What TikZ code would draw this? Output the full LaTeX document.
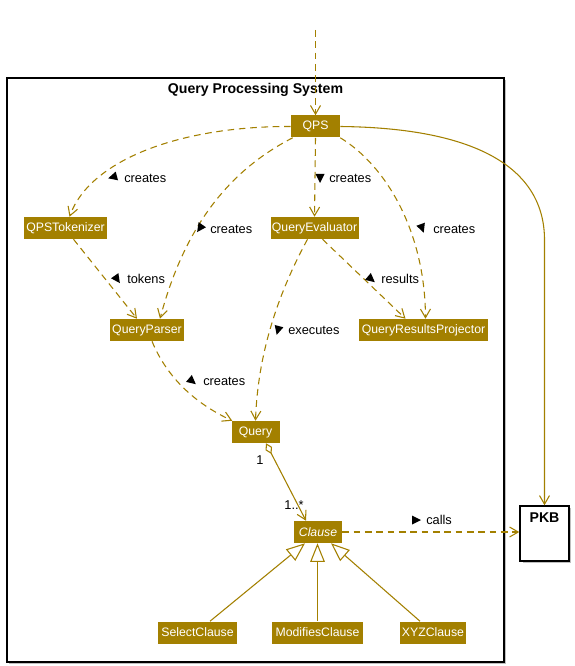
\documentclass[tikz,border=0pt]{standalone}
\usepackage{fontspec}
\setmainfont{Liberation Sans}
\usetikzlibrary{arrows.meta,calc}
\definecolor{qgold}{RGB}{163,128,0}
\begin{document}
\begin{tikzpicture}[x=0.75pt,y=-0.75pt,
  cls/.style={fill=qgold,text=white,font=\fontsize{9.2pt}{11pt}\selectfont,
    minimum height=16.5pt,inner xsep=0pt,inner ysep=0pt,minimum width={#1*0.75pt}},
  lbl/.style={anchor=west,inner sep=0pt,font=\fontsize{9.6pt}{11pt}\selectfont},
  mult/.style={inner sep=0pt,font=\fontsize{9.6pt}{11pt}\selectfont},
  dep/.style={draw=qgold,line width=0.8pt,dash pattern=on 5pt off 3.5pt,
    -{Straight Barb[length=6.5pt,width=7.5pt,line width=0.8pt]}},
  assoc/.style={draw=qgold,line width=0.8pt,
    -{Straight Barb[length=6.5pt,width=7.5pt,line width=0.8pt]}},
  gen/.style={draw=qgold,line width=0.8pt,
    -{Triangle[open,length=14pt,width=11pt,fill=white,line width=0.8pt]}},
  agg/.style={draw=qgold,line width=0.8pt,
    {Diamond[open,length=9pt,width=5.5pt,fill=white,line width=0.8pt]}-{Straight Barb[length=6.5pt,width=7.5pt,line width=0.8pt]}}
]
\useasboundingbox (0,0) rectangle (574,666);
% frame
\fill[black!25] (9,80) rectangle (506,664);
\draw[line width=1.1pt,fill=white] (7,78) rectangle (504,662);
\node[font=\bfseries\fontsize{10.6pt}{12pt}\selectfont,inner sep=0pt] (title) at (255.5,90) {Query Processing System};
% nodes
\node[cls=49] (QPS) at (315.5,126.5) {QPS};
\node[cls=83] (QPST) at (65.5,228) {QPSTokenizer};
\node[cls=88] (QE) at (314.5,228) {QueryEvaluator};
\node[cls=74] (QP) at (147,330) {QueryParser};
\node[cls=129] (QRP) at (423.5,330) {QueryResultsProjector};
\node[cls=48] (Q) at (255.5,432) {Query};
\node[cls=48] (C) at (318,532) {\itshape Clause};
\node[cls=79] (SC) at (197.5,632.5) {SelectClause};
\node[cls=91] (MC) at (317.5,632.5) {ModifiesClause};
\node[cls=66] (XC) at (433,632.5) {XYZClause};
% PKB
\fill[black!25] (523,508) rectangle (571,563);
\node[draw=black,line width=1.1pt,fill=white,minimum width=36.75pt,minimum height=41.25pt,inner sep=0pt] (PKB) at (544.5,533.5) {};
\node[font=\bfseries\fontsize{10.6pt}{12pt}\selectfont,inner sep=0pt] (PKBt) at (544.5,518) {PKB};
% connectors
\coordinate (top) at (315.5,30);
\draw[dep] (top) -- (QPS.north);
\draw[dep] (QPS.west) .. controls (180,126) and (90,160) .. ($(QPST.north)+(4,0)$);
\draw[dep] ($(QPS.south west)+(2,0)$) .. controls (230,170) and (185,225) .. ($(QP.north)+(13,0)$);
\draw[dep] (QPS.south) -- (QE.north);
\draw[dep] (QPS.south east) .. controls (385,165) and (425,230) .. ($(QRP.north)+(2,0)$);
\draw[dep] ($(QPST.south)+(8,0)$) -- ($(QP.north)+(-10,0)$);
\draw[dep] ($(QE.south)+(8,0)$) -- ($(QRP.north)+(-18,0)$);
\draw[dep] ($(QE.south)+(-7,0)$) .. controls (280,290) and (258,350) .. (Q.north);
\draw[dep] ($(QP.south)+(5,0)$) .. controls (170,385) and (205,408) .. ($(Q.north west)+(1,0)$);
\draw[dep] (C.east) -- (C.east -| PKB.west);
\draw[assoc] (QPS.east) .. controls (480,128) and (544.5,170) .. (544.5,240) -- (PKB.north);
\draw[agg] ($(Q.south)+(10.5,0)$) -- ($(C.north)+(-12,0)$);
\draw[gen] ($(SC.north)+(12.5,0)$) -- ($(C.south)+(-13,0)$);
\draw[gen] (MC.north) -- (MC.north |- C.south);
\draw[gen] ($(XC.north)+(-13,0)$) -- ($(C.south)+(13,0)$);
% labels with direction triangles
\newcommand{\dtri}[3]{\fill[black,shift={(#1,#2)},rotate=#3] (5,0) -- (-4,4.5) -- (-4,-4.5) -- cycle;}
\dtri{113}{177}{195}\node[lbl] (l1) at (124,178) {creates};
\dtri{200}{228}{235}\node[lbl] (l2) at (210,229) {creates};
\dtri{320}{178}{270}\node[lbl] (l3) at (329,178) {creates};
\dtri{422}{228}{290}\node[lbl] (l4) at (433,229) {creates};
\dtri{371}{279}{320}\node[lbl] (l5) at (381,279) {results};
\dtri{117}{279}{305}\node[lbl] (l6) at (127,279) {tokens};
\dtri{278}{330}{255}\node[lbl] (l7) at (288,330) {executes};
\dtri{192}{381}{320}\node[lbl] (l8) at (203,381) {creates};
\dtri{416}{520}{0}\node[lbl] (l9) at (426,520) {calls};
\node[mult] (m1) at (260,460) {1};
\node[mult] (m2) at (294,505) {1..*};
\end{tikzpicture}
\end{document}
